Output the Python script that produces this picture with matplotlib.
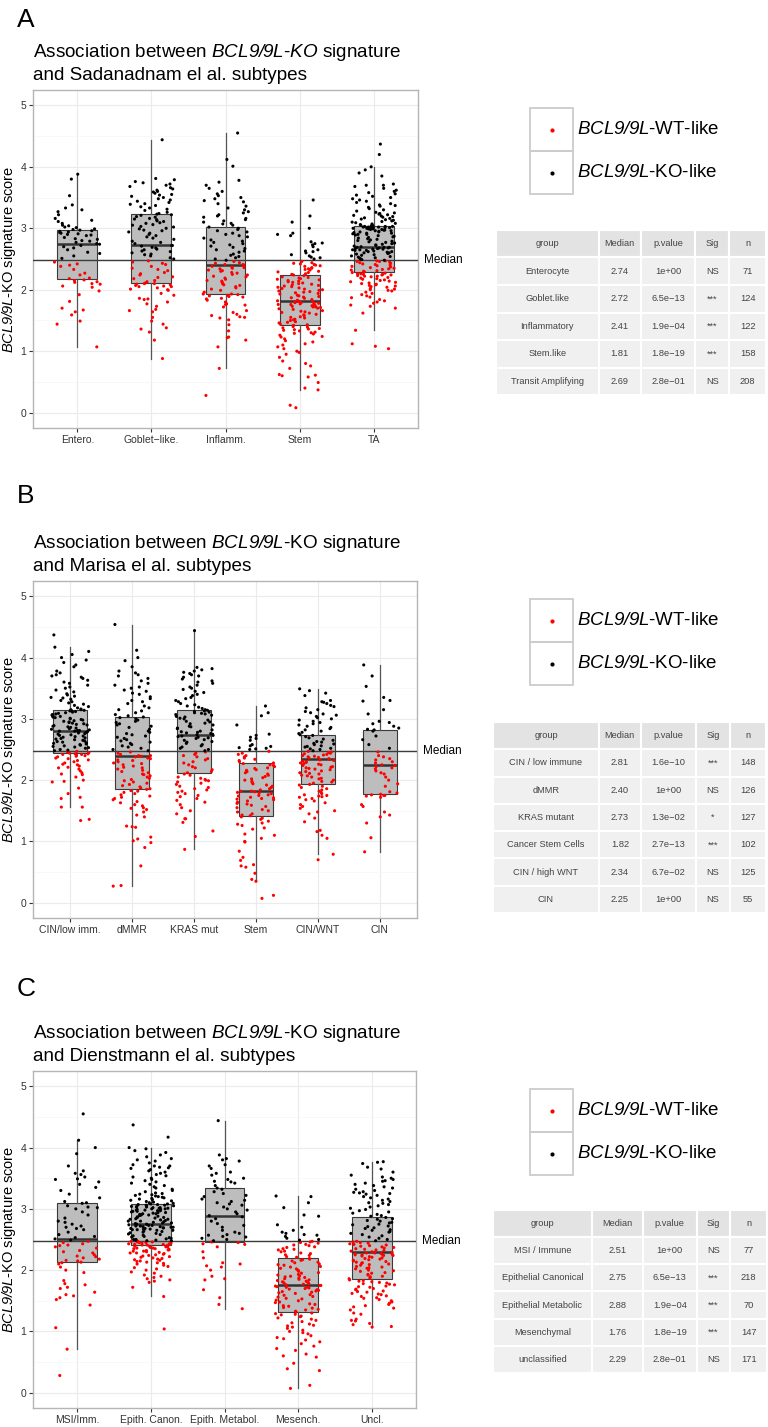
import numpy as np
import matplotlib
matplotlib.use('Agg')
import matplotlib.pyplot as plt
import matplotlib.transforms as mtransforms
from matplotlib.patches import Rectangle

plt.rcParams['font.family'] = ['Liberation Sans', 'DejaVu Sans']
plt.rcParams['mathtext.fontset'] = 'custom'
# everything inside $...$ is the italic gene name, digits included
plt.rcParams['mathtext.rm'] = 'Liberation Sans:italic'
plt.rcParams['mathtext.it'] = 'Liberation Sans:italic'

# overall median of the signature score (horizontal reference line)
median_line = 2.48

# ---------------- panel A : Sadanandam subtypes ----------------
a_labels = ['Entero.', 'Goblet\u2212like.', 'Inflamm.', 'Stem', 'TA']
a_entero = [1.07, 1.44, 1.49, 1.59, 1.64, 1.67, 1.70, 1.81, 1.92, 1.98, 2.04, 2.06, 2.09, 2.10, 2.12, 2.13, 2.15, 2.16,
            2.18, 2.19, 2.24, 2.27, 2.33, 2.38, 2.40, 2.42, 2.45, 2.51, 2.55, 2.59, 2.61, 2.65, 2.68, 2.70, 2.72, 2.74,
            2.75, 2.77, 2.79, 2.80, 2.82, 2.83, 2.85, 2.88, 2.89, 2.90, 2.91, 2.92, 2.93, 2.94, 2.95, 2.96, 2.97, 2.98,
            2.99, 3.01, 3.02, 3.04, 3.05, 3.08, 3.11, 3.13, 3.16, 3.22, 3.27, 3.30, 3.33, 3.38, 3.53, 3.80, 3.88]
a_goblet = [0.88, 1.18, 1.31, 1.36, 1.38, 1.44, 1.49, 1.55, 1.64, 1.66, 1.68, 1.73, 1.77, 1.80, 1.84, 1.85, 1.86, 1.91,
            1.94, 1.99, 2.00, 2.01, 2.03, 2.05, 2.05, 2.06, 2.07, 2.08, 2.09, 2.10, 2.10,
            2.11, 2.13, 2.15, 2.18, 2.20, 2.21, 2.24, 2.26, 2.28, 2.31, 2.33, 2.35, 2.38, 2.41, 2.43, 2.45, 2.47, 2.50,
            2.52, 2.55, 2.57, 2.58, 2.60, 2.62, 2.63, 2.65, 2.66, 2.68, 2.69, 2.71, 2.72,
            2.72, 2.75, 2.77, 2.79, 2.82, 2.84, 2.86, 2.88, 2.90, 2.92, 2.94, 2.96, 2.97, 2.99, 3.00, 3.02, 3.03, 3.05,
            3.06, 3.08, 3.09, 3.11, 3.12, 3.14, 3.15, 3.16, 3.18, 3.19, 3.21, 3.22, 3.23,
            3.24, 3.26, 3.29, 3.31, 3.33, 3.35, 3.37, 3.39, 3.40, 3.42, 3.44, 3.46, 3.48, 3.50, 3.52, 3.54, 3.55, 3.57,
            3.59, 3.60, 3.62, 3.64, 3.66, 3.68, 3.70, 3.72, 3.74, 3.76, 3.79, 3.81, 4.44]
a_inflamm = [0.28, 0.72, 1.07, 1.18, 1.22, 1.23, 1.33, 1.43, 1.51, 1.54, 1.55, 1.56, 1.58, 1.60, 1.63, 1.66, 1.72,
             1.75, 1.76, 1.77, 1.80, 1.83, 1.85, 1.86, 1.88, 1.89, 1.90, 1.91, 1.92, 1.93,
             1.93, 1.96, 1.99, 2.01, 2.03, 2.05, 2.07, 2.08, 2.10, 2.12, 2.14, 2.15, 2.17, 2.19, 2.21, 2.22, 2.24,
             2.25, 2.27, 2.28, 2.30, 2.31, 2.32, 2.34, 2.35, 2.36, 2.37, 2.38, 2.39, 2.40, 2.41,
             2.41, 2.43, 2.44, 2.46, 2.48, 2.50, 2.52, 2.54, 2.56, 2.58, 2.61, 2.63, 2.65, 2.67, 2.69, 2.71, 2.73,
             2.75, 2.77, 2.79, 2.81, 2.84, 2.86, 2.88, 2.90, 2.92, 2.94, 2.96, 2.98, 3.00,
             3.02, 3.05, 3.07, 3.08, 3.10, 3.12, 3.14, 3.16, 3.18, 3.20, 3.22, 3.25, 3.27, 3.30, 3.33, 3.36, 3.40,
             3.43, 3.45, 3.48, 3.50, 3.53, 3.56, 3.60, 3.65, 3.70, 3.75, 3.78, 4.01, 4.12, 4.55]
a_stem = [0.08, 0.12, 0.37, 0.40, 0.49, 0.58, 0.60, 0.61, 0.62, 0.72, 0.76, 0.80, 0.84, 0.90, 0.95, 0.98, 1.00, 1.04,
          1.07, 1.10, 1.12, 1.15, 1.17, 1.20, 1.23, 1.24, 1.26, 1.28, 1.29, 1.30, 1.31, 1.33, 1.34, 1.35, 1.36, 1.37,
          1.38, 1.39, 1.40, 1.42,
          1.43, 1.44, 1.46, 1.47, 1.48, 1.50, 1.51, 1.52, 1.54, 1.55, 1.56, 1.58, 1.59, 1.60, 1.62, 1.63, 1.64, 1.65,
          1.66, 1.68, 1.69, 1.70, 1.71, 1.72, 1.72, 1.73, 1.74, 1.74, 1.75, 1.76, 1.76, 1.77, 1.78, 1.78, 1.79, 1.79,
          1.80, 1.80, 1.81,
          1.82, 1.83, 1.84, 1.86, 1.87, 1.88, 1.89, 1.90, 1.91, 1.93, 1.94, 1.95, 1.96, 1.97, 1.98, 1.99, 2.00, 2.01,
          2.02, 2.03, 2.04, 2.05, 2.06, 2.07, 2.08, 2.09, 2.10, 2.11, 2.12, 2.13, 2.14, 2.15, 2.16, 2.17, 2.18, 2.19,
          2.20, 2.21, 2.23, 2.24,
          2.25, 2.26, 2.28, 2.29, 2.30, 2.32, 2.33, 2.34, 2.35, 2.36, 2.38, 2.39, 2.40, 2.41, 2.42, 2.43, 2.44, 2.46,
          2.50, 2.52, 2.53, 2.55, 2.57, 2.60, 2.62, 2.63, 2.65, 2.70, 2.73, 2.75, 2.76, 2.78, 2.88, 2.90, 2.92, 3.00,
          3.10, 3.20, 3.46]
a_ta = [1.04, 1.08, 1.12, 1.34, 1.62, 1.70, 1.73, 1.75, 1.78, 1.80, 1.82, 1.84, 1.87, 1.88, 1.90, 1.92, 1.94, 1.96,
        1.98, 1.99, 2.00, 2.01, 2.02, 2.04, 2.05, 2.06, 2.07, 2.08, 2.09, 2.10, 2.11, 2.12, 2.13, 2.14, 2.15, 2.16,
        2.17, 2.18, 2.19, 2.20, 2.21, 2.22, 2.22, 2.23, 2.24, 2.24, 2.25, 2.25, 2.26, 2.26, 2.27, 2.28,
        2.29, 2.30, 2.31, 2.32, 2.33, 2.34, 2.35, 2.36, 2.37, 2.38, 2.39, 2.40, 2.41, 2.42, 2.43, 2.44, 2.45, 2.46,
        2.46, 2.47, 2.47, 2.48, 2.49, 2.50, 2.51, 2.52, 2.53, 2.54, 2.55, 2.56, 2.57, 2.58, 2.59, 2.60, 2.60, 2.61,
        2.62, 2.62, 2.63, 2.64, 2.64, 2.65, 2.65, 2.66, 2.66, 2.67, 2.67, 2.68, 2.68, 2.69, 2.69, 2.69,
        2.70, 2.71, 2.72, 2.73, 2.74, 2.75, 2.76, 2.77, 2.78, 2.79, 2.80, 2.81, 2.82, 2.83, 2.84, 2.85, 2.86, 2.87,
        2.88, 2.89, 2.90, 2.90, 2.91, 2.92, 2.92, 2.93, 2.94, 2.94, 2.95, 2.96, 2.96, 2.97, 2.97, 2.98, 2.98, 2.99,
        2.99, 3.00, 3.00, 3.00, 3.01, 3.01, 3.01, 3.02, 3.02, 3.02, 3.03, 3.03, 3.03, 3.04, 3.04, 3.04,
        3.05, 3.06, 3.07, 3.08, 3.09, 3.10, 3.11, 3.12, 3.13, 3.14, 3.15, 3.16, 3.17, 3.18, 3.19, 3.20, 3.21, 3.22,
        3.23, 3.24, 3.25, 3.26, 3.28, 3.30, 3.32, 3.34, 3.36, 3.37, 3.38, 3.40, 3.42, 3.44, 3.46, 3.48, 3.50, 3.52,
        3.54, 3.56, 3.58, 3.60, 3.62, 3.65, 3.68, 3.70, 3.70, 3.72, 3.85, 3.90, 3.95, 4.00, 4.20, 4.37]
a_scores = [a_entero, a_goblet, a_inflamm, a_stem, a_ta]

a_tab_group = ['Enterocyte', 'Goblet.like', 'Inflammatory', 'Stem.like', 'Transit Amplifying']
a_tab_median = ['2.74', '2.72', '2.41', '1.81', '2.69']
a_tab_p = ['1e+00', '6.5e\u221213', '1.9e\u221204', '1.8e\u221219', '2.8e\u221201']
a_tab_sig = ['NS', '***', '***', '***', 'NS']
a_tab_n = [71, 124, 122, 158, 208]

# ---------------- panel B : Marisa subtypes ----------------
b_labels = ['CIN/low imm.', 'dMMR', 'KRAS mut', 'Stem', 'CIN/WNT', 'CIN']
b_cinlow = [1.34, 1.36, 1.56, 1.56, 1.70, 1.72, 1.78, 1.87, 1.97, 1.98, 2.00, 2.05, 2.09, 2.10, 2.12, 2.15, 2.18,
            2.20, 2.21, 2.23, 2.25, 2.26, 2.28, 2.30, 2.32, 2.33, 2.35, 2.36, 2.38, 2.39, 2.40, 2.41, 2.42, 2.42,
            2.43, 2.43, 2.44,
            2.45, 2.46, 2.47, 2.48, 2.49, 2.50, 2.52, 2.53, 2.54, 2.55, 2.56, 2.57, 2.58, 2.59, 2.60, 2.61, 2.62,
            2.63, 2.64, 2.65, 2.66, 2.67, 2.68, 2.69, 2.70, 2.71, 2.72, 2.73, 2.74, 2.75, 2.76, 2.77, 2.78, 2.79,
            2.80, 2.80, 2.81,
            2.81, 2.82, 2.83, 2.84, 2.85, 2.86, 2.87, 2.88, 2.89, 2.90, 2.91, 2.92, 2.93, 2.94, 2.95, 2.96, 2.97,
            2.98, 2.99, 3.00, 3.01, 3.02, 3.03, 3.04, 3.05, 3.06, 3.07, 3.08, 3.09, 3.10, 3.11, 3.12, 3.13, 3.13,
            3.14, 3.15, 3.15,
            3.16, 3.18, 3.20, 3.22, 3.24, 3.26, 3.28, 3.30, 3.32, 3.34, 3.35, 3.37, 3.39, 3.41, 3.44, 3.47, 3.50,
            3.52, 3.55, 3.58, 3.60, 3.63, 3.66, 3.68, 3.70, 3.72, 3.75, 3.78, 3.85, 3.88, 3.92, 3.96, 4.00, 4.05,
            4.10, 4.17, 4.37]
b_dmmr = [0.27, 0.28, 0.60, 0.90, 0.98, 1.01, 1.04, 1.07, 1.23, 1.24, 1.25, 1.40, 1.43, 1.48, 1.52, 1.54, 1.55, 1.58,
          1.60, 1.63, 1.65, 1.68, 1.70, 1.72, 1.74, 1.76, 1.78, 1.80, 1.82, 1.83, 1.85, 1.86,
          1.87, 1.89, 1.91, 1.93, 1.95, 1.97, 1.99, 2.01, 2.03, 2.05, 2.07, 2.09, 2.10, 2.12, 2.14, 2.16, 2.18, 2.20,
          2.21, 2.23, 2.25, 2.27, 2.28, 2.30, 2.32, 2.33, 2.35, 2.36, 2.38, 2.39, 2.40,
          2.40, 2.42, 2.44, 2.46, 2.48, 2.50, 2.52, 2.54, 2.56, 2.58, 2.60, 2.62, 2.64, 2.66, 2.68, 2.70, 2.72, 2.74,
          2.76, 2.78, 2.80, 2.83, 2.86, 2.88, 2.90, 2.92, 2.94, 2.96, 2.98, 3.00, 3.02,
          3.03, 3.05, 3.07, 3.10, 3.13, 3.15, 3.18, 3.21, 3.25, 3.28, 3.30, 3.33, 3.36, 3.40, 3.42, 3.45, 3.47, 3.50,
          3.52, 3.55, 3.58, 3.62, 3.66, 3.70, 3.72, 3.75, 3.78, 3.85, 3.95, 4.00, 4.12, 4.54]
b_kras = [0.87, 1.08, 1.17, 1.31, 1.37, 1.37, 1.45, 1.50, 1.55, 1.60, 1.64, 1.67, 1.70, 1.73, 1.75, 1.78, 1.80, 1.82,
          1.84, 1.86, 1.88, 1.90, 1.93, 1.95, 1.97, 1.99, 2.00, 2.01, 2.03, 2.05, 2.08, 2.10,
          2.12, 2.14, 2.17, 2.20, 2.22, 2.25, 2.28, 2.30, 2.33, 2.35, 2.38, 2.40, 2.42, 2.44, 2.46, 2.48, 2.50, 2.52,
          2.54, 2.56, 2.58, 2.60, 2.62, 2.63, 2.65, 2.66, 2.68, 2.69, 2.70, 2.71, 2.72,
          2.73, 2.74, 2.75, 2.76, 2.77, 2.78, 2.79, 2.80, 2.82, 2.84, 2.85, 2.87, 2.88, 2.90, 2.92, 2.93, 2.95, 2.96,
          2.98, 3.00, 3.01, 3.03, 3.04, 3.06, 3.07, 3.08, 3.09, 3.10, 3.11, 3.12, 3.13,
          3.14, 3.15, 3.17, 3.19, 3.21, 3.23, 3.25, 3.28, 3.30, 3.33, 3.35, 3.38, 3.40, 3.43, 3.45, 3.48, 3.50, 3.52,
          3.55, 3.58, 3.60, 3.62, 3.65, 3.68, 3.70, 3.72, 3.74, 3.76, 3.78, 3.80, 3.82, 3.84, 4.44]
b_stem = [0.07, 0.12, 0.35, 0.38, 0.48, 0.58, 0.60, 0.62, 0.69, 0.74, 0.84, 0.99, 1.00, 1.05, 1.10, 1.12, 1.20, 1.22,
          1.26, 1.28, 1.30, 1.33, 1.36, 1.38, 1.40, 1.42,
          1.43, 1.45, 1.48, 1.50, 1.52, 1.55, 1.57, 1.59, 1.61, 1.62, 1.64, 1.66, 1.68, 1.69, 1.70, 1.71, 1.72, 1.74,
          1.75, 1.76, 1.78, 1.79, 1.80, 1.81, 1.82,
          1.82, 1.84, 1.86, 1.88, 1.90, 1.92, 1.94, 1.96, 1.98, 2.00, 2.02, 2.04, 2.06, 2.08, 2.10, 2.12, 2.14, 2.16,
          2.17, 2.19, 2.20, 2.22, 2.24, 2.25, 2.27,
          2.28, 2.30, 2.32, 2.34, 2.36, 2.38, 2.40, 2.42, 2.44, 2.47, 2.50, 2.51, 2.52, 2.53, 2.55, 2.56, 2.58, 2.65,
          2.68, 2.70, 2.73, 2.75, 2.90, 3.05, 3.10, 3.21]
b_cinwnt = [0.70, 0.79, 1.05, 1.10, 1.16, 1.18, 1.32, 1.38, 1.45, 1.48, 1.50, 1.54, 1.57, 1.60, 1.63, 1.66, 1.68,
            1.70, 1.72, 1.73, 1.74, 1.75, 1.76, 1.78, 1.80, 1.82, 1.84, 1.86, 1.88, 1.90, 1.92,
            1.93, 1.95, 1.97, 1.98, 2.00, 2.02, 2.03, 2.05, 2.07, 2.08, 2.10, 2.11, 2.12, 2.14, 2.15, 2.17, 2.18,
            2.19, 2.20, 2.21, 2.22, 2.24, 2.25, 2.26, 2.27, 2.28, 2.29, 2.30, 2.31, 2.32, 2.33,
            2.34, 2.35, 2.36, 2.37, 2.38, 2.39, 2.40, 2.41, 2.42, 2.43, 2.44, 2.45, 2.46, 2.47, 2.48, 2.50, 2.51,
            2.52, 2.54, 2.55, 2.56, 2.58, 2.59, 2.60, 2.62, 2.63, 2.65, 2.67, 2.69, 2.71, 2.73,
            2.74, 2.76, 2.78, 2.80, 2.82, 2.84, 2.86, 2.88, 2.90, 2.92, 2.94, 2.96, 2.98, 3.00, 3.02, 3.04, 3.06,
            3.08, 3.10, 3.12, 3.15, 3.18, 3.20, 3.22, 3.25, 3.27, 3.28, 3.30, 3.38, 3.42, 3.46, 3.49]
b_cin = [0.83, 1.06, 1.30, 1.40, 1.43, 1.48, 1.57, 1.60, 1.72, 1.74, 1.75, 1.75, 1.76, 1.77,
         1.79, 1.81, 1.90, 1.94, 2.00, 2.05, 2.10, 2.12, 2.15, 2.18, 2.20, 2.22, 2.24,
         2.25, 2.28, 2.30, 2.33, 2.35, 2.38, 2.40, 2.46, 2.52, 2.58, 2.66, 2.72, 2.80,
         2.82, 2.83, 2.85, 2.88, 2.92, 2.94, 2.96, 3.08, 3.15, 3.29, 3.30, 3.35, 3.53, 3.70, 3.88]
b_scores = [b_cinlow, b_dmmr, b_kras, b_stem, b_cinwnt, b_cin]

b_tab_group = ['CIN / low immune', 'dMMR', 'KRAS mutant', 'Cancer Stem Cells', 'CIN / high WNT', 'CIN']
b_tab_median = ['2.81', '2.40', '2.73', '1.82', '2.34', '2.25']
b_tab_p = ['1.6e\u221210', '1e+00', '1.3e\u221202', '2.7e\u221213', '6.7e\u221202', '1e+00']
b_tab_sig = ['***', 'NS', '*', '***', 'NS', 'NS']
b_tab_n = [148, 126, 127, 102, 125, 55]

# ---------------- panel C : Dienstmann subtypes ----------------
c_labels = ['MSI/Imm.', 'Epith. Canon.', 'Epith. Metabol.', 'Mesench.', 'Uncl.']
c_msi = [0.28, 0.71, 1.06, 1.43, 1.52, 1.55, 1.58, 1.60, 1.64, 1.70, 1.72, 1.76, 1.78, 1.83, 1.96, 2.00, 2.05, 2.10,
         2.12,
         2.13, 2.15, 2.16, 2.18, 2.20, 2.22, 2.23, 2.25, 2.28, 2.30, 2.32, 2.36, 2.38, 2.40, 2.41, 2.43, 2.45, 2.47,
         2.49,
         2.51, 2.53, 2.55, 2.58, 2.62, 2.66, 2.68, 2.70, 2.72, 2.75, 2.78, 2.80, 2.85, 2.90, 2.95, 3.00, 3.02, 3.03,
         3.05,
         3.09, 3.10, 3.12, 3.18, 3.24, 3.30, 3.35, 3.40, 3.44, 3.48, 3.49, 3.52, 3.56, 3.58, 3.62, 3.70, 3.90, 4.00,
         4.12, 4.55]
c_canon = [1.04, 1.57, 1.72, 1.80, 1.82, 1.84, 1.86, 1.88, 1.90, 1.92, 1.95, 1.97, 2.00, 2.02, 2.04, 2.06, 2.08, 2.10,
           2.11, 2.12, 2.13, 2.14, 2.15, 2.16, 2.17, 2.18, 2.19, 2.20, 2.21, 2.22, 2.23, 2.24, 2.25, 2.26, 2.27,
           2.28, 2.28, 2.29, 2.30, 2.31, 2.31, 2.32, 2.33, 2.33, 2.34, 2.35, 2.35, 2.36, 2.36, 2.37, 2.38, 2.38,
           2.39, 2.39, 2.40,
           2.41, 2.41, 2.42, 2.42, 2.43, 2.43, 2.44, 2.44, 2.45, 2.45, 2.46, 2.46, 2.47, 2.47, 2.48, 2.48, 2.49,
           2.49, 2.50, 2.50, 2.51, 2.52, 2.53, 2.54, 2.55, 2.56, 2.57, 2.58, 2.59, 2.60, 2.61, 2.62, 2.63, 2.64,
           2.65, 2.65, 2.66, 2.66, 2.67, 2.67, 2.68, 2.68, 2.69, 2.69, 2.70, 2.70, 2.71, 2.71, 2.72, 2.72, 2.73,
           2.73, 2.74, 2.75,
           2.75, 2.76, 2.77, 2.77, 2.78, 2.79, 2.80, 2.80, 2.81, 2.82, 2.83, 2.83, 2.84, 2.85, 2.86, 2.86, 2.87,
           2.88, 2.89, 2.90, 2.90, 2.91, 2.92, 2.92, 2.93, 2.94, 2.94, 2.95, 2.96, 2.96, 2.97, 2.97, 2.98, 2.98,
           2.99, 2.99, 3.00, 3.00, 3.01, 3.01, 3.02, 3.02, 3.03, 3.03, 3.04, 3.04, 3.05, 3.05, 3.06, 3.06, 3.07,
           3.07, 3.08, 3.08,
           3.09, 3.10, 3.11, 3.12, 3.13, 3.14, 3.15, 3.16, 3.17, 3.18, 3.19, 3.20, 3.21, 3.22, 3.23, 3.24, 3.25,
           3.26, 3.28, 3.30, 3.32, 3.34, 3.36, 3.38, 3.40, 3.42, 3.44, 3.46, 3.48, 3.50, 3.52, 3.54, 3.56, 3.58,
           3.60, 3.62, 3.64, 3.66, 3.68, 3.70, 3.70, 3.72, 3.75, 3.78, 3.80, 3.82, 3.85, 3.88, 3.92, 3.95, 3.98,
           4.00, 4.17, 4.37, 3.67]
c_metab = [1.37, 1.44, 1.55, 1.68, 1.84, 1.86, 1.90, 2.00, 2.05, 2.07, 2.10, 2.12, 2.20, 2.30, 2.38, 2.42, 2.43, 2.45,
           2.46, 2.48, 2.50, 2.52, 2.54, 2.55, 2.57, 2.58, 2.60, 2.62, 2.65, 2.70, 2.73, 2.76, 2.80, 2.84, 2.87,
           2.89, 2.92, 2.95, 2.98, 3.00, 3.03, 3.06, 3.08, 3.10, 3.12, 3.14, 3.16, 3.20, 3.22, 3.25, 3.28, 3.32,
           3.34, 3.38, 3.42, 3.45, 3.48, 3.50, 3.55, 3.60, 3.66, 3.70, 3.72, 3.78, 3.80, 3.82, 3.88, 3.44, 3.58,
           4.44]
c_mes = [0.07, 0.12, 0.36, 0.39, 0.48, 0.58, 0.60, 0.63, 0.69, 0.72, 0.76, 0.80, 0.83, 0.86, 0.88, 0.90, 0.93, 0.96,
         0.98, 1.00, 1.02, 1.05, 1.07, 1.09, 1.10, 1.12, 1.14, 1.16, 1.18, 1.20, 1.22, 1.24, 1.25, 1.27, 1.28, 1.29,
         1.30,
         1.32, 1.33, 1.35, 1.36, 1.38, 1.39, 1.41, 1.42, 1.44, 1.45, 1.47, 1.48, 1.50, 1.51, 1.53, 1.54, 1.56, 1.57,
         1.59, 1.60, 1.62, 1.63, 1.64, 1.65, 1.66, 1.67, 1.68, 1.69, 1.70, 1.71, 1.72, 1.72, 1.73, 1.74, 1.75, 1.75,
         1.76, 1.77, 1.78, 1.79, 1.80, 1.81, 1.82, 1.83, 1.84, 1.85, 1.86, 1.87, 1.88, 1.89, 1.90, 1.91, 1.92, 1.93,
         1.95, 1.96, 1.98, 1.99, 2.00, 2.02, 2.03, 2.05, 2.06, 2.08, 2.09, 2.10, 2.12, 2.13, 2.15, 2.16, 2.17, 2.18,
         2.19,
         2.21, 2.22, 2.24, 2.25, 2.27, 2.28, 2.30, 2.31, 2.33, 2.34, 2.35, 2.37, 2.38, 2.40, 2.41, 2.42, 2.44, 2.45,
         2.46, 2.47, 2.49, 2.50, 2.52, 2.55, 2.57, 2.58, 2.60, 2.62, 2.65, 2.70, 2.74, 2.88, 2.90, 3.02, 3.10, 3.20,
         3.21]
c_uncl = [1.07, 1.08, 1.11, 1.13, 1.17, 1.18, 1.20, 1.28, 1.30, 1.35, 1.38, 1.40, 1.42, 1.44, 1.46, 1.48, 1.50, 1.52,
          1.54, 1.55, 1.57, 1.58, 1.60, 1.61, 1.62, 1.64, 1.65, 1.66, 1.68, 1.69, 1.70, 1.72, 1.73, 1.74, 1.76, 1.77,
          1.78, 1.79, 1.80, 1.81, 1.82, 1.83, 1.84,
          1.86, 1.87, 1.89, 1.90, 1.92, 1.93, 1.95, 1.96, 1.98, 1.99, 2.00, 2.02, 2.03, 2.04, 2.05, 2.06, 2.08, 2.09,
          2.10, 2.11, 2.12, 2.13, 2.14, 2.15, 2.16, 2.17, 2.18, 2.19, 2.20, 2.21, 2.22, 2.23, 2.24, 2.24, 2.25, 2.25,
          2.26, 2.26, 2.27, 2.27, 2.28, 2.28,
          2.29, 2.30, 2.31, 2.32, 2.33, 2.34, 2.35, 2.36, 2.37, 2.38, 2.39, 2.40, 2.41, 2.42, 2.43, 2.44, 2.45, 2.46,
          2.47, 2.48, 2.50, 2.52, 2.54, 2.56, 2.58, 2.60, 2.62, 2.63, 2.65, 2.66, 2.68, 2.69, 2.71, 2.72, 2.74, 2.75,
          2.77, 2.78, 2.80, 2.81, 2.83, 2.84, 2.86,
          2.88, 2.89, 2.91, 2.93, 2.95, 2.97, 2.99, 3.01, 3.03, 3.05, 3.07, 3.09, 3.10, 3.12, 3.14, 3.16, 3.18, 3.20,
          3.22, 3.24, 3.25, 3.26, 3.27, 3.28, 3.30, 3.32, 3.34, 3.36, 3.38, 3.40, 3.42, 3.45, 3.46, 3.48, 3.50, 3.52,
          3.55, 3.60, 3.65, 3.68, 3.74, 3.76, 3.77]
c_scores = [c_msi, c_canon, c_metab, c_mes, c_uncl]

c_tab_group = ['MSI / Immune', 'Epithelial Canonical', 'Epithelial Metabolic', 'Mesenchymal', 'unclassified']
c_tab_median = ['2.51', '2.75', '2.88', '1.76', '2.29']
c_tab_p = ['1e+00', '6.5e\u221213', '1.9e\u221204', '1.8e\u221219', '2.8e\u221201']
c_tab_sig = ['NS', '***', '***', '***', 'NS']
c_tab_n = [77, 218, 70, 147, 171]

tab_header = ['group', 'Median', 'p.value', 'Sig', 'n']

# ---------------- drawing ----------------
W, H = 768, 1427
fig = plt.figure(figsize=(W / 100, H / 100), dpi=100)


def px_rect(x0, y0, x1, y1):
    return [x0 / W, 1 - y1 / H, (x1 - x0) / W, (y1 - y0) / H]


def jitter(n, seed):
    # deterministic horizontal spread of the points
    i = np.arange(n) + 1.0
    u = np.sin(i * 12.9898 + seed * 78.233) * 43758.5453
    return (u - np.floor(u) - 0.5) * 0.62


def draw_panel(ax, groups, labels, seed0):
    pos = np.arange(1, len(groups) + 1)
    ax.boxplot(groups, positions=pos, widths=0.54, patch_artist=True, showfliers=False,
               showcaps=False, whis=1.5, manage_ticks=False, zorder=2,
               boxprops=dict(facecolor='#bdbdbd', edgecolor='#3a3a3a', linewidth=0.8),
               whiskerprops=dict(color='#555555', linewidth=0.9),
               medianprops=dict(color='#333333', linewidth=1.8))
    ax.axhline(median_line, color='#3c3c3c', lw=1.0, zorder=3)
    for k, vals in enumerate(groups):
        y = np.asarray(vals)
        x = pos[k] + jitter(len(y), seed0 + k)
        cols = np.where(y < median_line, '#ff0000', '#000000')
        ax.scatter(x, y, s=5, c=cols, linewidths=0, zorder=4)

    ax.set_xlim(0.4, len(groups) + 0.6)
    ax.set_ylim(-0.25, 5.25)
    ax.set_xticks(pos)
    ax.set_xticklabels(labels)
    ax.set_yticks(range(6))
    ax.set_yticks(np.arange(0.5, 5.0, 1.0), minor=True)
    ax.grid(True, which='major', color='#ebebeb', lw=0.8)
    ax.grid(True, which='minor', axis='y', color='#f5f5f5', lw=0.5)
    ax.set_axisbelow(True)
    ax.tick_params(which='minor', length=0)
    ax.tick_params(which='major', length=3, width=0.8, color='#333333',
                   labelsize=7.5, labelcolor='#333333', pad=2)
    for sp in ax.spines.values():
        sp.set_color('#b5b5b5')
        sp.set_linewidth(1.0)
    ax.set_ylabel('$BCL9/9L$-KO signature score', fontsize=10.5)
    ax.yaxis.set_label_coords(-0.04, 0.5)
    trans = mtransforms.blended_transform_factory(ax.transAxes, ax.transData)
    ax.text(1.015, median_line, 'Median', transform=trans, va='center', ha='left', fontsize=8.5)


def draw_table(rect, groups, medians, pvals, sigs, ns, widths):
    tax = fig.add_axes(rect)
    tax.axis('off')
    rows = [[g, m, p, s, str(n)] for g, m, p, s, n in zip(groups, medians, pvals, sigs, ns)]
    tot = float(sum(widths))
    tbl = tax.table(cellText=rows, colLabels=tab_header, colWidths=[w / tot for w in widths],
                    cellLoc='center', bbox=[0, 0, 1, 1])
    tbl.auto_set_font_size(False)
    for (r, c), cell in tbl.get_celld().items():
        cell.set_edgecolor('white')
        cell.set_linewidth(1.5)
        cell.set_facecolor('#e3e3e3' if r == 0 else '#f0f0f0')
        cell.get_text().set_fontsize(6.7)
        cell.get_text().set_color('#444444')


panels = [
    ('A', 90, 428, 418, a_scores, a_labels,
     'Association between $BCL9/9L$-$KO$ signature', 'and Sadanadnam el al. subtypes', 27,
     (a_tab_group, a_tab_median, a_tab_p, a_tab_sig, a_tab_n), (496, 230, 766, 395), [101, 42, 53, 34, 36]),
    ('B', 581, 918, 417, b_scores, b_labels,
     'Association between $BCL9/9L$-KO signature', 'and Marisa el al. subtypes', 503,
     (b_tab_group, b_tab_median, b_tab_p, b_tab_sig, b_tab_n), (493, 722, 766, 913), [104, 41, 54, 34, 35]),
    ('C', 1071, 1408, 416, c_scores, c_labels,
     'Association between $BCL9/9L$-KO signature', 'and Dienstmann el al. subtypes', 996,
     (c_tab_group, c_tab_median, c_tab_p, c_tab_sig, c_tab_n), (493, 1210, 767, 1373), [97, 50, 53, 33, 36]),
]

overlay = fig.add_axes([0, 0, 1, 1])
overlay.set_xlim(0, W)
overlay.set_ylim(H, 0)
overlay.axis('off')
overlay.patch.set_visible(False)

for p_i, (letter, top, bottom, right, scores, labels, t1, t2, let_y, tab, trect, twidths) in enumerate(panels):
    ax = fig.add_axes(px_rect(33, top, right, bottom))
    draw_panel(ax, scores, labels, p_i * 10)

    overlay.text(17, let_y, letter, fontsize=19, va='baseline', ha='left')
    overlay.text(33, top - 33, t1, fontsize=13.6, va='baseline', ha='left')
    overlay.text(33, top - 10, t2, fontsize=13.6, va='baseline', ha='left')

    # legend keys
    ktop = top + 18
    for j, (col, lab) in enumerate([('#ff0000', '$BCL9/9L$-WT-like'),
                                    ('#000000', '$BCL9/9L$-KO-like')]):
        y0 = ktop + j * 43
        overlay.add_patch(Rectangle((530, y0), 43, 43, fill=False, edgecolor='#cccccc', lw=1.3))
        overlay.scatter([551.5], [y0 + 21.5], s=9, c=col, linewidths=0)
        overlay.text(577, y0 + 21.5, lab, fontsize=13.5, va='center', ha='left')

    draw_table(px_rect(*trect), *tab, twidths)

fig.savefig('out.png', dpi=100, facecolor='white')
